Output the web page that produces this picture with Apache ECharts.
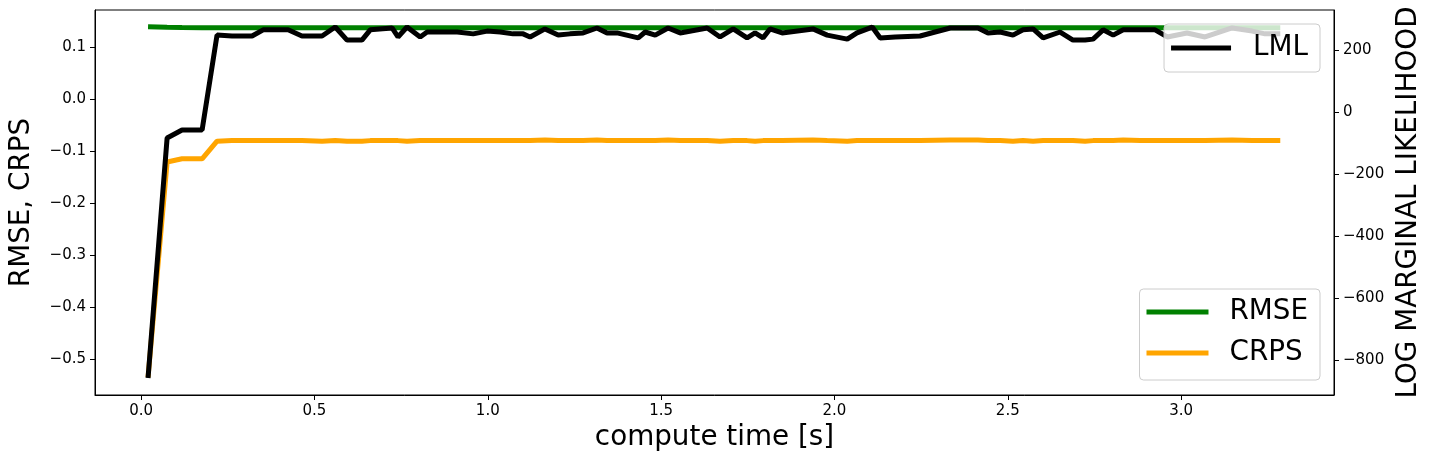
<!DOCTYPE html>
<html>
<head>
<meta charset="utf-8">
<script src="https://cdn.jsdelivr.net/npm/echarts@6/dist/echarts.min.js"></script>
<style>
html,body{margin:0;padding:0;background:#fff;}
#chart{width:1432px;height:466px;}
</style>
</head>
<body>
<div id="chart"></div>
<script>
const times = [0.020,0.075,0.118,0.176,0.219,0.262,0.320,0.352,0.424,0.464,
  0.522,0.560,0.594,0.637,0.661,0.724,0.741,0.767,0.805,0.825,
  0.862,0.912,0.958,0.998,1.036,1.073,1.102,1.122,1.165,1.203,
  1.237,1.275,1.315,1.344,1.373,1.434,1.454,1.483,1.520,1.555,
  1.633,1.670,1.708,1.748,1.771,1.794,1.814,1.849,1.938,1.979,
  2.037,2.065,2.109,2.132,2.175,2.247,2.334,2.414,2.443,2.478,
  2.515,2.544,2.573,2.602,2.651,2.688,2.723,2.746,2.775,2.804,
  2.833,2.882,2.925,2.960,3.017,3.069,3.147,3.205,3.242,3.286];

const lml = [-858,-84,-58,-58,248,245,245,265,265,245,
  245,274,232,232,265,271,242,274,242,258,
  258,258,252,261,258,252,252,242,268,248,
  252,255,271,255,255,239,258,248,271,255,
  271,242,268,239,255,239,268,255,268,248,
  235,255,274,239,242,245,271,271,255,258,
  248,265,268,239,258,232,232,235,265,248,
  265,265,265,242,255,242,271,261,252,252];

const rmse = [0.139,0.138,0.1375,0.137,0.137,0.137,0.137,0.137,0.137,0.137,
  0.137,0.137,0.137,0.137,0.137,0.137,0.137,0.137,0.137,0.137,
  0.137,0.137,0.137,0.137,0.137,0.137,0.137,0.137,0.137,0.137,
  0.137,0.137,0.137,0.137,0.137,0.137,0.137,0.137,0.137,0.137,
  0.137,0.137,0.137,0.137,0.137,0.137,0.137,0.137,0.137,0.137,
  0.137,0.137,0.137,0.137,0.137,0.137,0.137,0.137,0.137,0.137,
  0.137,0.137,0.137,0.137,0.137,0.137,0.137,0.137,0.137,0.137,
  0.137,0.137,0.137,0.137,0.137,0.137,0.137,0.137,0.137,0.137];

const crps = [-0.535,-0.121,-0.115,-0.115,-0.081,-0.080,-0.080,-0.080,-0.080,-0.080,
  -0.081,-0.080,-0.081,-0.081,-0.080,-0.080,-0.080,-0.081,-0.080,-0.080,
  -0.080,-0.080,-0.080,-0.080,-0.080,-0.080,-0.080,-0.080,-0.079,-0.080,
  -0.080,-0.080,-0.079,-0.080,-0.080,-0.080,-0.080,-0.080,-0.079,-0.080,
  -0.080,-0.081,-0.080,-0.080,-0.081,-0.080,-0.080,-0.080,-0.079,-0.080,
  -0.081,-0.080,-0.080,-0.080,-0.080,-0.080,-0.079,-0.079,-0.080,-0.080,
  -0.081,-0.080,-0.081,-0.080,-0.080,-0.080,-0.081,-0.080,-0.080,-0.080,
  -0.079,-0.080,-0.080,-0.080,-0.080,-0.080,-0.079,-0.080,-0.080,-0.080];

const xTicks = [0, 0.5, 1.0, 1.5, 2.0, 2.5, 3.0];
const leftTicks = [-0.5, -0.4, -0.3, -0.2, -0.1, 0.0, 0.1];
const rightTicks = [-800, -600, -400, -200, 0, 200];

const FONT = 'DejaVu Sans';
const minus = s => s.replace('-', '\u2212');
const pair = arr => times.map((t, i) => [t, arr[i]]);

const chart = echarts.init(document.getElementById('chart'), null, {renderer: 'canvas'});
const axisCommon = {
  axisLine: {show: true, onZero: false, lineStyle: {color: '#000', width: 1}},
  splitLine: {show: false},
  nameTextStyle: {fontFamily: FONT, fontSize: 27.8, color: '#000'}
};
chart.setOption({
  animation: false,
  backgroundColor: '#fff',
  grid: {left: 95, right: 98, top: 10, bottom: 71, show: true, borderColor: '#000', borderWidth: 1, containLabel: false},
  xAxis: Object.assign({}, axisCommon, {
    type: 'value', min: -0.133, max: 3.441,
    name: 'compute time [s]', nameLocation: 'middle', nameGap: 29,
    axisTick: {show: true, length: 5, customValues: xTicks, lineStyle: {color: '#000'}},
    axisLabel: {customValues: xTicks, margin: 9, fontFamily: FONT, fontSize: 15, color: '#000',
      formatter: v => minus(v.toFixed(1))}
  }),
  yAxis: [
    Object.assign({}, axisCommon, {
      type: 'value', position: 'left', min: -0.5692, max: 0.1712,
      name: 'RMSE, CRPS', nameLocation: 'middle', nameGap: 59, nameRotate: 90,
      axisTick: {show: true, length: 5, customValues: leftTicks, lineStyle: {color: '#000'}},
      axisLabel: {customValues: leftTicks, margin: 9, fontFamily: FONT, fontSize: 15, color: '#000',
        formatter: v => minus(v.toFixed(1))}
    }),
    Object.assign({}, axisCommon, {
      type: 'value', position: 'right', min: -913, max: 329,
      name: 'LOG MARGINAL LIKELIHOOD', nameLocation: 'middle', nameGap: 58, nameRotate: 90,
      axisTick: {show: true, length: 5, customValues: rightTicks, lineStyle: {color: '#000'}},
      axisLabel: {customValues: rightTicks, margin: 9, fontFamily: FONT, fontSize: 15, color: '#000',
        formatter: v => minus(String(Math.round(v)))}
    })
  ],
  legend: [
    {
      data: ['LML'], orient: 'vertical', right: 112, top: 24,
      icon: 'rect', itemWidth: 60, itemHeight: 5,
      padding: [10, 12, 10, 7],
      backgroundColor: 'rgba(255,255,255,0.8)', borderColor: '#cccccc', borderWidth: 1, borderRadius: 4,
      textStyle: {fontFamily: FONT, fontSize: 27.8, color: '#000', padding: [0, 0, 0, 17], lineHeight: 28},
      z: 10
    },
    {
      data: ['RMSE', 'CRPS'], orient: 'vertical', right: 112, top: 289,
      icon: 'rect', itemWidth: 62, itemHeight: 5, itemGap: 13,
      padding: [9, 12, 13, 7],
      backgroundColor: 'rgba(255,255,255,0.8)', borderColor: '#cccccc', borderWidth: 1, borderRadius: 4,
      textStyle: {fontFamily: FONT, fontSize: 27.8, color: '#000', padding: [0, 0, 0, 16], lineHeight: 28},
      z: 10
    }
  ],
  series: [
    {name: 'RMSE', type: 'line', yAxisIndex: 0, data: pair(rmse), showSymbol: false,
      lineStyle: {color: '#008000', width: 5}, itemStyle: {color: '#008000'}, z: 2},
    {name: 'CRPS', type: 'line', yAxisIndex: 0, data: pair(crps), showSymbol: false,
      lineStyle: {color: '#ffa500', width: 5}, itemStyle: {color: '#ffa500'}, z: 3},
    {name: 'LML', type: 'line', yAxisIndex: 1, data: pair(lml), showSymbol: false,
      lineStyle: {color: '#000000', width: 5}, itemStyle: {color: '#000000'}, z: 4}
  ]
});
</script>
</body>
</html>
